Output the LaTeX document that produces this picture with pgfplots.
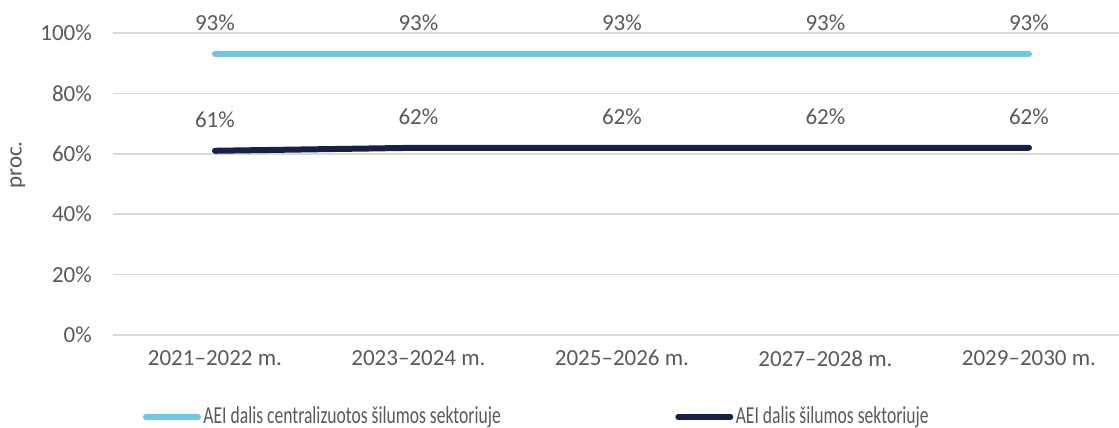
\documentclass[border=0pt]{standalone}
\usepackage{fontspec}
\setmainfont{Carlito}
\newfontfamily\legfont[FakeStretch=0.72]{Carlito}
\usepackage{pgfplots}
\pgfplotsset{compat=1.18}
\definecolor{lblue}{HTML}{6FC8E2}
\definecolor{navy}{HTML}{17204A}
\definecolor{txt}{HTML}{595959}
\definecolor{gridc}{HTML}{D9D9D9}
\begin{document}
\begin{tikzpicture}
\fontsize{11.5bp}{14bp}\selectfont
\path[use as bounding box] (-56.6bp,-46.5bp) rectangle (502.9bp,167.5bp);
\begin{axis}[
  at={(0,0)}, anchor=south west,
  scale only axis, width=502.9bp, height=151bp,
  xmin=-0.5, xmax=4.4425, ymin=0, ymax=100,
  axis line style={draw=none},
  tick style={draw=none},
  ymajorgrids, xmajorgrids=false, grid style={draw=gridc, line width=0.75bp},
  ytick={0,20,40,60,80,100},
  yticklabel={\pgfmathprintnumber{\tick}\%},
  xtick={0,1,2,3,4},
  xticklabels={2021–2022 m.,2023–2024 m.,2025–2026 m.,2027–2028 m.,2029–2030 m.},
  /pgf/number format/assume math mode=true,
  ticklabel style={font=\fontsize{11.5bp}{14bp}\selectfont, text=txt, inner sep=0pt},
  yticklabel style={anchor=east, xshift=-10.5bp},
  xticklabel style={anchor=north, yshift=-7.5bp},
  ylabel={proc.},
  ylabel style={at={(axis description cs:-0.0947,0.563)}, anchor=center, font=\fontsize{11.5bp}{14bp}\selectfont, text=txt, rotate=0},
  nodes near coords={\pgfmathprintnumber[fixed,precision=0]{\pgfplotspointmeta}\%},
  every node near coord/.append style={font=\fontsize{11.5bp}{14bp}\selectfont, text=txt, inner sep=0pt, anchor=south, yshift=10bp},
  legend columns=2,
  legend style={draw=none, fill=none, inner sep=0pt, outer sep=0pt,
    at={(axis description cs:0.0296,-0.2715)}, anchor=west,
    font=\legfont\fontsize{12.2bp}{14bp}\selectfont, text=txt,
    nodes={inner sep=1.25bp},
    /tikz/every even column/.append style={column sep=86bp}},
  legend cell align=left,
  legend image code/.code={\draw[#1, line width=3bp, line cap=round] (0bp,0bp) -- (26bp,0bp);},
]
\addplot[lblue, line width=3bp, line cap=round, mark=none] coordinates {(0,93) (1,93) (2,93) (3,93) (4,93)};
\addlegendentry{AEI dalis centralizuotos šilumos sektoriuje}
\addplot[navy, line width=3bp, line cap=round, mark=none] coordinates {(0,61) (1,62) (2,62) (3,62) (4,62)};
\addlegendentry{AEI dalis šilumos sektoriuje}
\end{axis}
\end{tikzpicture}
\end{document}
